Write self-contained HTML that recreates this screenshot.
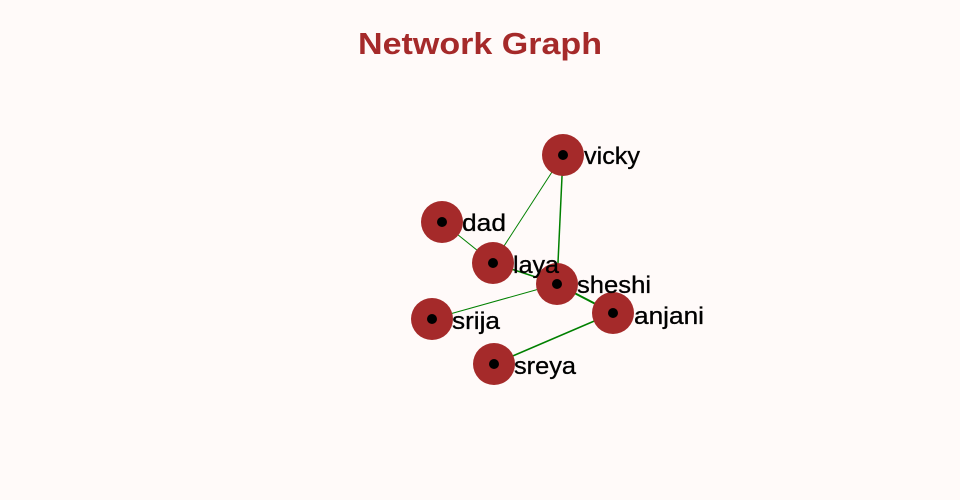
<!DOCTYPE html>
<html><head><meta charset="utf-8"><style>
html,body{margin:0;padding:0;background:#fffaf9;}
svg{display:block;}
text{font-family:"Liberation Sans",sans-serif;}
</style></head><body>
<svg width="960" height="500" viewBox="0 0 960 500">
<rect width="960" height="500" fill="#fffaf9"/>
<text x="480" y="54" text-anchor="middle" font-size="31" font-weight="bold" fill="#a52a2a" textLength="244" lengthAdjust="spacingAndGlyphs">Network Graph</text>
<g stroke="green" fill="none">
<line x1="442" y1="222" x2="493" y2="263" stroke-width="1"/>
<line x1="493" y1="263" x2="563" y2="155" stroke-width="1"/>
<line x1="563" y1="155" x2="557" y2="284" stroke-width="1.5"/>
<line x1="493" y1="263" x2="557" y2="284" stroke-width="1.5"/>
<line x1="557" y1="284" x2="613" y2="313" stroke-width="2"/>
<line x1="432" y1="319" x2="557" y2="284" stroke-width="1"/>
<line x1="613" y1="313" x2="494" y2="364" stroke-width="1.5"/>
</g>
<g fill="#a52a2a">
<circle cx="563" cy="155" r="21"/>
<circle cx="442" cy="222" r="21"/>
<circle cx="493" cy="263" r="21"/>
<circle cx="557" cy="284" r="21"/>
<circle cx="432" cy="319" r="21"/>
<circle cx="613" cy="313" r="21"/>
<circle cx="494" cy="364" r="21"/>
</g>
<g fill="#000">
<circle cx="563" cy="155" r="5"/>
<circle cx="442" cy="222" r="5"/>
<circle cx="493" cy="263" r="5"/>
<circle cx="557" cy="284" r="5"/>
<circle cx="432" cy="319" r="5"/>
<circle cx="613" cy="313" r="5"/>
<circle cx="494" cy="364" r="5"/>
</g>
<g font-size="24" fill="#000" stroke="#000" stroke-width="0.3">
<text x="584" y="164" textLength="56" lengthAdjust="spacingAndGlyphs">vicky</text>
<text x="462" y="231" textLength="44" lengthAdjust="spacingAndGlyphs">dad</text>
<text x="513" y="273" textLength="46" lengthAdjust="spacingAndGlyphs">laya</text>
<text x="577" y="293" textLength="74" lengthAdjust="spacingAndGlyphs">sheshi</text>
<text x="452" y="329" textLength="48" lengthAdjust="spacingAndGlyphs">srija</text>
<text x="634" y="324" textLength="70" lengthAdjust="spacingAndGlyphs">anjani</text>
<text x="514" y="374" textLength="62" lengthAdjust="spacingAndGlyphs">sreya</text>
</g>
</svg>
</body></html>
